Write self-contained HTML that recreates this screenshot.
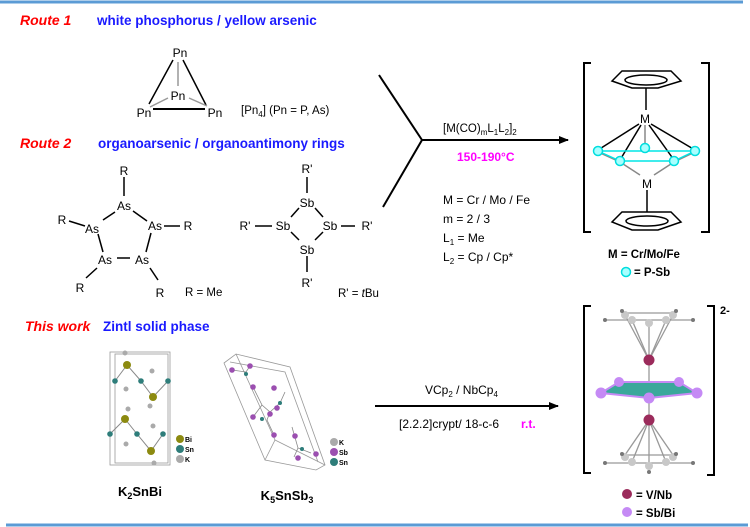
<!DOCTYPE html>
<html><head><meta charset="utf-8"><style>
html,body{margin:0;padding:0;background:#fff;}
svg{display:block;}
text{font-family:"Liberation Sans",Arial,sans-serif;}
</style></head><body>
<svg width="750" height="527" viewBox="0 0 750 527" xmlns="http://www.w3.org/2000/svg">
<defs><marker id="ah" markerWidth="10" markerHeight="8" refX="9" refY="4" orient="auto" markerUnits="userSpaceOnUse"><path d="M0,0 L10,4 L0,8 Z" fill="#000"/></marker></defs>
<line x1="0" y1="2" x2="743" y2="2" stroke="#5b9bd5" stroke-width="3"/>
<line x1="6" y1="525" x2="748" y2="525" stroke="#5b9bd5" stroke-width="3"/>

<!-- Route 1 -->
<text x="20" y="25" font-size="14" font-weight="bold" font-style="italic" fill="#ff0000">Route 1</text>
<text x="97" y="25" font-size="13.5" font-weight="bold" fill="#1a1aff">white phosphorus / yellow arsenic</text>
<g stroke-width="1.5">
<line x1="173" y1="60" x2="149" y2="104" stroke="#000"/>
<line x1="183" y1="60" x2="206" y2="105" stroke="#000"/>
<line x1="153" y1="109" x2="205" y2="109" stroke="#000" stroke-width="2"/>
<line x1="178" y1="62" x2="178" y2="86" stroke="#999"/>
<line x1="150" y1="107" x2="168" y2="98" stroke="#999"/>
<line x1="189" y1="98" x2="207" y2="106" stroke="#999"/>
</g>
<g font-size="12" text-anchor="middle">
<text x="180" y="57">Pn</text><text x="178" y="100">Pn</text>
<text x="144" y="117">Pn</text><text x="215" y="117">Pn</text>
</g>
<text x="241" y="114" font-size="11.5">[Pn<tspan font-size="8" dy="3">4</tspan><tspan dy="-3">] (Pn = P, As)</tspan></text>

<!-- Route 2 -->
<text x="20" y="148" font-size="14" font-weight="bold" font-style="italic" fill="#ff0000">Route 2</text>
<text x="98" y="148" font-size="13.5" font-weight="bold" fill="#1a1aff">organoarsenic / organoantimony rings</text>
<g stroke="#000" stroke-width="1.5">
<line x1="124" y1="177" x2="124" y2="196"/>
<line x1="69" y1="221" x2="85" y2="226"/>
<line x1="103" y1="220" x2="115" y2="212"/>
<line x1="133" y1="211" x2="147" y2="221"/>
<line x1="164" y1="226" x2="180" y2="226"/>
<line x1="98" y1="234" x2="103" y2="252"/>
<line x1="151" y1="233" x2="146" y2="252"/>
<line x1="117" y1="258" x2="130" y2="258"/>
<line x1="97" y1="268" x2="86" y2="278"/>
<line x1="150" y1="268" x2="158" y2="280"/>
</g>
<g font-size="12" text-anchor="middle">
<text x="124" y="175">R</text><text x="124" y="210">As</text>
<text x="62" y="224">R</text><text x="92" y="233">As</text>
<text x="155" y="230">As</text><text x="188" y="230">R</text>
<text x="105" y="264">As</text><text x="142" y="264">As</text>
<text x="80" y="292">R</text><text x="160" y="297">R</text>
</g>
<text x="185" y="296" font-size="11.5">R = Me</text>

<g stroke="#000" stroke-width="1.5">
<line x1="307" y1="177" x2="307" y2="193"/>
<line x1="255" y1="226" x2="272" y2="226"/>
<line x1="341" y1="226" x2="355" y2="226"/>
<line x1="299" y1="208" x2="291" y2="217"/>
<line x1="315" y1="208" x2="323" y2="217"/>
<line x1="291" y1="232" x2="299" y2="240"/>
<line x1="323" y1="232" x2="315" y2="240"/>
<line x1="307" y1="256" x2="307" y2="272"/>
</g>
<g font-size="12" text-anchor="middle">
<text x="307" y="173">R'</text><text x="307" y="207">Sb</text>
<text x="245" y="230">R'</text><text x="283" y="230">Sb</text>
<text x="330" y="230">Sb</text><text x="367" y="230">R'</text>
<text x="307" y="254">Sb</text><text x="307" y="287">R'</text>
</g>
<text x="338" y="297" font-size="11.5">R' = <tspan font-style="italic">t</tspan>Bu</text>

<!-- fork arrow -->
<polyline points="379,75 422,140 383,207" fill="none" stroke="#000" stroke-width="2"/>
<line x1="422" y1="140" x2="568" y2="140" stroke="#000" stroke-width="2" marker-end="url(#ah)"/>
<text x="443" y="132" font-size="11.5">[M(CO)<tspan font-size="8" dy="3">m</tspan><tspan dy="-3">L</tspan><tspan font-size="8" dy="3">1</tspan><tspan dy="-3">L</tspan><tspan font-size="8" dy="3">2</tspan><tspan dy="-3">]</tspan><tspan font-size="8" dy="3">2</tspan></text>
<text x="457" y="161" font-size="12" font-weight="bold" fill="#ff00ff">150-190°C</text>
<g font-size="12">
<text x="443" y="204">M = Cr / Mo / Fe</text>
<text x="443" y="223">m = 2 / 3</text>
<text x="443" y="242">L<tspan font-size="8" dy="3">1</tspan><tspan dy="-3"> = Me</tspan></text>
<text x="443" y="261">L<tspan font-size="8" dy="3">2</tspan><tspan dy="-3"> = Cp / Cp*</tspan></text>
</g>

<!-- upper complex -->
<g fill="none" stroke="#000" stroke-width="2">
<polyline points="591,63 584,63 584,232 591,232"/>
<polyline points="701,63 709,63 709,232 701,232"/>
</g>
<g stroke="#000" stroke-width="1.5" fill="none">
<polygon points="622,71 671,71 681,81 658,88 632,88 612,81"/>
<ellipse cx="646" cy="80" rx="21" ry="5"/>
<polygon points="622,212 671,212 681,222 658,230 632,230 612,222"/>
<ellipse cx="647" cy="221" rx="21" ry="5"/>
<line x1="646" y1="88" x2="646" y2="110"/>
<line x1="647" y1="190" x2="647" y2="212"/>
<line x1="639" y1="124" x2="598" y2="150"/>
<line x1="641" y1="125" x2="620" y2="160"/>
<line x1="651" y1="124" x2="695" y2="150"/>
<line x1="649" y1="125" x2="674" y2="160"/>
</g>
<g stroke="#888" stroke-width="1.5">
<line x1="645" y1="125" x2="645" y2="145"/>
<line x1="620" y1="162" x2="640" y2="175"/>
<line x1="674" y1="162" x2="654" y2="175"/>
<line x1="598" y1="152" x2="620" y2="162"/>
<line x1="695" y1="152" x2="674" y2="162"/>
</g>
<g stroke="#00e5e5" stroke-width="1.5">
<line x1="598" y1="151" x2="695" y2="151"/>
<line x1="620" y1="161" x2="674" y2="161"/>
<line x1="598" y1="151" x2="620" y2="161"/>
<line x1="695" y1="151" x2="674" y2="161"/>
</g>
<g fill="#a8ffff" stroke="#00dede" stroke-width="1.5">
<circle cx="598" cy="151" r="4.5"/><circle cx="645" cy="148" r="4.5"/><circle cx="695" cy="151" r="4.5"/>
<circle cx="620" cy="161" r="4.5"/><circle cx="674" cy="161" r="4.5"/>
</g>
<text x="645" y="123" font-size="12" text-anchor="middle">M</text>
<text x="647" y="188" font-size="12" text-anchor="middle">M</text>
<text x="644" y="258" font-size="11.5" font-weight="bold" text-anchor="middle">M = Cr/Mo/Fe</text>
<circle cx="626" cy="272" r="4.5" fill="#a8ffff" stroke="#00dede" stroke-width="1.5"/>
<text x="634" y="276" font-size="11.5" font-weight="bold">= P-Sb</text>

<!-- This work -->
<text x="25" y="331" font-size="14" font-weight="bold" font-style="italic" fill="#ff0000">This work</text>
<text x="103" y="331" font-size="13.5" font-weight="bold" fill="#1a1aff">Zintl solid phase</text>

<!-- K2SnBi cell -->
<g fill="none" stroke="#999" stroke-width="0.8">
<rect x="110" y="352" width="60" height="113"/>
<rect x="115" y="354" width="53" height="109"/>
</g>
<polyline points="115,381 127,365 141,381 153,397 168,381" fill="none" stroke="#888"/>
<polyline points="110,434 125,419 137,434 151,451 163,434" fill="none" stroke="#888"/>
<g fill="#2e7d7a"><circle cx="115" cy="381" r="2.8"/><circle cx="141" cy="381" r="2.8"/><circle cx="168" cy="381" r="2.8"/><circle cx="110" cy="434" r="2.8"/><circle cx="137" cy="434" r="2.8"/><circle cx="163" cy="434" r="2.8"/></g>
<g fill="#8c8a10"><circle cx="127" cy="365" r="4"/><circle cx="153" cy="397" r="4"/><circle cx="125" cy="419" r="4"/><circle cx="151" cy="451" r="4"/></g>
<g fill="#aaa"><circle cx="125" cy="353" r="2.5"/><circle cx="152" cy="371" r="2.5"/><circle cx="126" cy="389" r="2.5"/><circle cx="128" cy="409" r="2.5"/><circle cx="150" cy="406" r="2.5"/><circle cx="153" cy="426" r="2.5"/><circle cx="126" cy="444" r="2.5"/><circle cx="154" cy="463" r="2.5"/></g>
<circle cx="180" cy="439" r="4" fill="#8c8a10"/><circle cx="180" cy="449" r="4" fill="#2e7d7a"/><circle cx="180" cy="459" r="4" fill="#aaa"/>
<g font-size="7" font-weight="bold"><text x="185" y="442">Bi</text><text x="185" y="452">Sn</text><text x="185" y="462">K</text></g>
<text x="140" y="496" font-size="13" font-weight="bold" text-anchor="middle">K<tspan font-size="9" dy="3">2</tspan><tspan dy="-3">SnBi</tspan></text>

<!-- K5SnSb3 cell -->
<g fill="none" stroke="#999" stroke-width="0.8">
<polygon points="224,363 236,354 290,367 325,465 316,470 265,460"/>
<polyline points="236,354 275,440 265,460"/><polyline points="275,440 325,465"/>
<polyline points="230,362 285,372 318,462"/>
</g>
<g stroke="#888" stroke-width="0.8" fill="none"><polyline points="232,370 246,372 250,366"/><polyline points="253,387 262,405 270,412 280,403 285,392"/><polyline points="270,412 267,420 274,435"/><polyline points="262,405 253,417"/><polyline points="292,427 298,448 311,453"/><line x1="298" y1="448" x2="294" y2="457"/></g>
<g fill="#9b4fb0"><circle cx="232" cy="370" r="2.8"/><circle cx="250" cy="366" r="2.8"/><circle cx="253" cy="387" r="2.8"/><circle cx="274" cy="388" r="2.8"/><circle cx="277" cy="408" r="2.8"/><circle cx="253" cy="417" r="2.8"/><circle cx="274" cy="435" r="2.8"/><circle cx="295" cy="436" r="2.8"/><circle cx="316" cy="454" r="2.8"/><circle cx="298" cy="458" r="2.8"/><circle cx="270" cy="414" r="2.8"/></g>
<g fill="#2e7d7a"><circle cx="246" cy="374" r="2"/><circle cx="280" cy="403" r="2"/><circle cx="262" cy="419" r="2"/><circle cx="302" cy="449" r="2"/></g>
<circle cx="334" cy="442" r="4" fill="#aaa"/><circle cx="334" cy="452" r="4" fill="#9b4fb0"/><circle cx="334" cy="462" r="4" fill="#2e7d7a"/>
<g font-size="7" font-weight="bold"><text x="339" y="445">K</text><text x="339" y="455">Sb</text><text x="339" y="465">Sn</text></g>
<text x="287" y="500" font-size="13" font-weight="bold" text-anchor="middle">K<tspan font-size="9" dy="3">5</tspan><tspan dy="-3">SnSb</tspan><tspan font-size="9" dy="3">3</tspan></text>

<!-- arrow 2 -->
<line x1="375" y1="406" x2="558" y2="406" stroke="#000" stroke-width="2" marker-end="url(#ah)"/>
<text x="425" y="394" font-size="12">VCp<tspan font-size="8" dy="3">2</tspan><tspan dy="-3"> / NbCp</tspan><tspan font-size="8" dy="3">4</tspan></text>
<text x="399" y="428" font-size="12">[2.2.2]crypt/ 18-c-6</text>
<text x="521" y="428" font-size="12" font-weight="bold" fill="#ff00ff">r.t.</text>

<!-- lower complex -->
<g fill="none" stroke="#000" stroke-width="2">
<polyline points="591,306 584,306 584,473 591,473"/>
<polyline points="707,306 714,306 714,475 707,475"/>
</g>
<text x="720" y="314" font-size="11" font-weight="bold">2-</text>
<g stroke="#999" stroke-width="1.3">
<line x1="605" y1="320" x2="693" y2="320"/>
<line x1="623" y1="313" x2="674" y2="313"/>
<line x1="625" y1="315" x2="649" y2="360"/><line x1="632" y1="320" x2="649" y2="360"/><line x1="649" y1="322" x2="649" y2="360"/><line x1="666" y1="320" x2="649" y2="360"/><line x1="673" y1="315" x2="649" y2="360"/>
<line x1="649" y1="360" x2="649" y2="420"/>
<line x1="625" y1="455" x2="649" y2="420"/><line x1="632" y1="462" x2="649" y2="420"/><line x1="649" y1="465" x2="649" y2="420"/><line x1="666" y1="462" x2="649" y2="420"/><line x1="673" y1="455" x2="649" y2="420"/>
<line x1="605" y1="463" x2="693" y2="463"/><line x1="623" y1="455" x2="674" y2="455"/>
</g>
<g fill="#c8c8c8"><circle cx="625" cy="315" r="4"/><circle cx="673" cy="315" r="4"/><circle cx="632" cy="320" r="4"/><circle cx="666" cy="320" r="4"/><circle cx="649" cy="323" r="4"/>
<circle cx="625" cy="457" r="4"/><circle cx="673" cy="457" r="4"/><circle cx="632" cy="462" r="4"/><circle cx="666" cy="462" r="4"/><circle cx="649" cy="466" r="4"/></g>
<g fill="#777"><circle cx="605" cy="320" r="2"/><circle cx="693" cy="320" r="2"/><circle cx="622" cy="311" r="2"/><circle cx="676" cy="311" r="2"/><circle cx="605" cy="463" r="2"/><circle cx="693" cy="463" r="2"/><circle cx="622" cy="454" r="2"/><circle cx="676" cy="454" r="2"/><circle cx="649" cy="472" r="2"/></g>
<polygon points="601,393 619,382 679,382 697,393 649,398" fill="#3aa89b" stroke="#c58af5" stroke-width="2"/>
<g fill="#c58af5"><circle cx="601" cy="393" r="5.5"/><circle cx="619" cy="382" r="5"/><circle cx="679" cy="382" r="5"/><circle cx="697" cy="393" r="5.5"/><circle cx="649" cy="398" r="5.5"/></g>
<circle cx="649" cy="360" r="5.5" fill="#9b2b5b"/><circle cx="649" cy="420" r="5.5" fill="#9b2b5b"/>
<circle cx="627" cy="494" r="5" fill="#9b2b5b"/><text x="636" y="499" font-size="11.5" font-weight="bold">= V/Nb</text>
<circle cx="627" cy="512" r="5" fill="#c58af5"/><text x="636" y="517" font-size="11.5" font-weight="bold">= Sb/Bi</text>
</svg>
</body></html>
